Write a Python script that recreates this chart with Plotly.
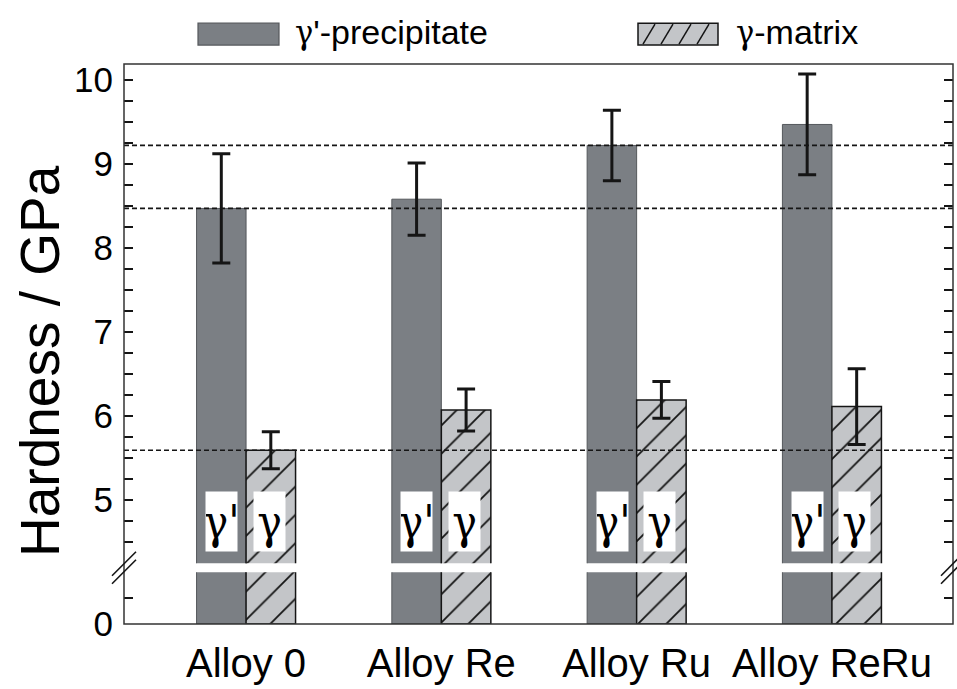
import plotly.graph_objects as go

# Nanoindentation hardness of the two phases in each alloy
alloys = ["Alloy 0", "Alloy Re", "Alloy Ru", "Alloy ReRu"]
precip_hardness = [8.47, 8.58, 9.22, 9.47]   # gamma' precipitate, GPa
precip_err = [0.65, 0.43, 0.42, 0.60]
matrix_hardness = [5.59, 6.07, 6.19, 6.11]   # gamma matrix, GPa
matrix_err = [0.22, 0.25, 0.22, 0.45]
# dashed guide levels taken from selected bars
guide_levels = [precip_hardness[2], precip_hardness[0], matrix_hardness[0]]

upper_ticks = [5, 6, 7, 8, 9, 10]
lower_ticks = [0]

W, H = 957, 689
ML, MR, MT, MB = 124, 4, 64, 63
PW, PH = W - ML - MR, H - MT - MB


def px(x):
    return (x - ML) / PW


def py(y):
    return (H - MB - y) / PH


LOW_TOP = py(574)
UP_BOT = py(565)

FONT = "Liberation Sans, Arial, sans-serif"
NARROW = "Liberation Sans Narrow, Arial Narrow, Liberation Sans, sans-serif"
GREEK = "DejaVu Serif Condensed, DejaVu Serif, Liberation Serif, serif"
PREC_FILL = "#7b7f84"
PREC_EDGE = "#55585c"
MAT_FILL = "#c3c5c8"
INK = "#151515"

fig = go.Figure()

for xa, ya in (("x", "y"), ("x2", "y2")):
    fig.add_trace(go.Bar(
        x=alloys, y=precip_hardness, name="γ'-precipitate",
        xaxis=xa, yaxis=ya, showlegend=False,
        marker=dict(color=PREC_FILL, line=dict(color=PREC_EDGE, width=1)),
        error_y=dict(type="data", array=precip_err, color=INK,
                     thickness=3, width=9, visible=(ya == "y2")),
    ))
    fig.add_trace(go.Bar(
        x=alloys, y=matrix_hardness, name="γ-matrix",
        xaxis=xa, yaxis=ya, showlegend=False,
        marker=dict(color=MAT_FILL, line=dict(color=INK, width=1.5),
                    pattern=dict(shape="/", fillmode="replace", bgcolor=MAT_FILL,
                                 fgcolor=INK, size=20, solidity=0.09)),
        error_y=dict(type="data", array=matrix_err, color=INK,
                     thickness=3, width=9, visible=(ya == "y2")),
    ))

tick_font = dict(family=NARROW, size=35, color="black")
common_y = dict(showgrid=False, zeroline=False, showline=False,
                ticks="inside", ticklen=9, tickwidth=1.5, tickcolor=INK,
                mirror="ticks", tickfont=tick_font, ticklabelstandoff=10)

fig.update_layout(
    width=W, height=H,
    margin=dict(l=ML, r=MR, t=MT, b=MB),
    paper_bgcolor="white", plot_bgcolor="white",
    barmode="group", bargap=0.493, bargroupgap=0,
    showlegend=False,
    xaxis=dict(domain=[0, 1], anchor="y", type="category",
               range=[-0.625, 3.62], showgrid=False, showline=False,
               zeroline=False, ticks="", ticklabelstandoff=12,
               tickfont=dict(family=FONT, size=40, color="black")),
    xaxis2=dict(domain=[0, 1], anchor="y2", matches="x", type="category",
                showticklabels=False, showgrid=False, showline=False,
                zeroline=False, ticks=""),
    yaxis=dict(domain=[0, LOW_TOP], range=[0, 1], tickvals=lower_ticks,
               minor=dict(ticks="inside", dtick=0.5, tick0=0, ticklen=9,
                          tickwidth=1.5, tickcolor=INK),
               **common_y),
    yaxis2=dict(domain=[UP_BOT, 1], range=[4.245, 10.19], tickvals=upper_ticks,
                minor=dict(ticks="inside", dtick=0.25, tick0=0, ticklen=9,
                           tickwidth=1.5, tickcolor=INK),
                **common_y),
)

shapes = []
# dashed guide lines across the upper panel
for lv in guide_levels:
    shapes.append(dict(type="line", xref="paper", x0=0, x1=1, yref="y2",
                       y0=lv, y1=lv, layer="above",
                       line=dict(color=INK, width=1.7, dash="5px,3px")))
# plot frame
shapes.append(dict(type="rect", xref="paper", yref="paper", x0=0, x1=1,
                   y0=0, y1=1, layer="above",
                   line=dict(color="#333333", width=1.5)))
# axis break marks
gap_mid = (LOW_TOP + UP_BOT) / 2
for xa in (0, 1):
    for d in (-4, 4):
        shapes.append(dict(type="line", xref="paper", yref="paper",
                           xsizemode="pixel", ysizemode="pixel",
                           xanchor=xa, yanchor=gap_mid,
                           x0=-12, x1=12, y0=-12 + d, y1=12 + d,
                           layer="above", line=dict(color=INK, width=1.6)))

# legend keys
shapes.append(dict(type="rect", xref="paper", yref="paper",
                   x0=px(198), x1=px(279), y0=py(45), y1=py(23),
                   fillcolor=PREC_FILL, line=dict(color=PREC_EDGE, width=1.2)))
shapes.append(dict(type="rect", xref="paper", yref="paper",
                   x0=px(638), x1=px(718), y0=py(45), y1=py(23),
                   fillcolor=MAT_FILL, line=dict(color=INK, width=1.5)))
for xb in (641, 659, 677, 695):
    shapes.append(dict(type="line", xref="paper", yref="paper",
                       x0=px(xb + 2), x1=px(xb + 14), y0=py(44), y1=py(24),
                       line=dict(color=INK, width=1.5)))
fig.update_layout(shapes=shapes)

ann = []
legend_font = dict(family=FONT, size=34, color="black")
ann.append(dict(text=f"<span style='font-family:{GREEK}'>γ</span>'-precipitate",
                xref="paper", yref="paper", x=px(293), y=py(32),
                xanchor="left", yanchor="middle", showarrow=False,
                font=legend_font))
ann.append(dict(text=f"<span style='font-family:{GREEK}'>γ</span>-matrix",
                xref="paper", yref="paper", x=px(734), y=py(32),
                xanchor="left", yanchor="middle", showarrow=False,
                font=legend_font))
ann.append(dict(text="Hardness / GPa", xref="paper", yref="paper",
                x=px(40), y=py(362), textangle=-90, xanchor="center",
                yanchor="middle", showarrow=False,
                font=dict(family=FONT, size=55, color="black")))
# phase labels inside the bars
for a in alloys:
    for lab, shift in (("γ'", -24.5), ("γ", 23)):
        ann.append(dict(text=lab, xref="x2", yref="paper", x=a, xshift=shift,
                        y=py(523.5), yanchor="middle", showarrow=False,
                        width=31, height=59, bgcolor="white", borderpad=0,
                        font=dict(family=GREEK, size=46, color="black")))
fig.update_layout(annotations=ann)

fig.write_html("out.html")
